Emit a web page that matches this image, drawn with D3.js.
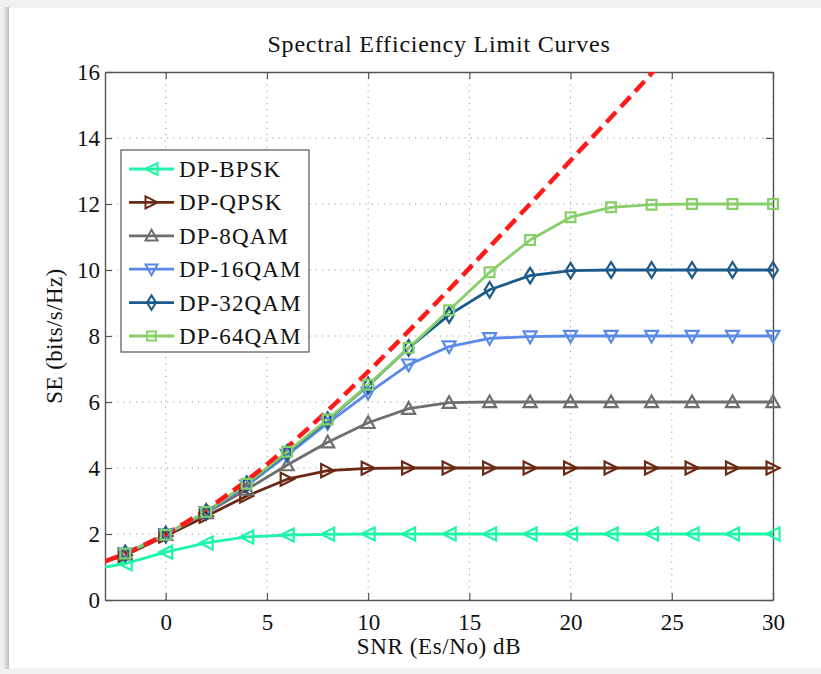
<!DOCTYPE html>
<html>
<head>
<meta charset="utf-8">
<script src="https://cdn.jsdelivr.net/npm/d3@7/dist/d3.min.js"></script>
<style>
  body { margin: 0; background: #f1f1f1; }
  svg { display: block; }
  text { font-family: "Liberation Serif", "Times New Roman", serif; fill: #111; }
</style>
</head>
<body>
<div id="chart"></div>
<script>
/* global d3 */
// SNR points (dB); first point (-3) has no marker, it's only where the curves start
var snr = [-3, -2, 0, 2, 4, 6, 8, 10, 12, 14, 16, 18, 20, 22, 24, 26, 28, 30];

var bpsk   = [1.00, 1.10, 1.45, 1.73, 1.91, 1.97, 1.99, 2.00, 2.00, 2.00, 2.00, 2.00, 2.00, 2.00, 2.00, 2.00, 2.00, 2.00];
var qpsk   = [1.17, 1.36, 1.94, 2.54, 3.15, 3.66, 3.92, 3.99, 4.00, 4.00, 4.00, 4.00, 4.00, 4.00, 4.00, 4.00, 4.00, 4.00];
var qam8   = [1.17, 1.39, 1.98, 2.64, 3.35, 4.09, 4.78, 5.37, 5.80, 5.98, 6.00, 6.00, 6.00, 6.00, 6.00, 6.00, 6.00, 6.00];
var qam16  = [1.17, 1.40, 1.98, 2.66, 3.46, 4.39, 5.36, 6.27, 7.13, 7.68, 7.93, 7.98, 8.00, 8.00, 8.00, 8.00, 8.00, 8.00];
var qam32  = [1.17, 1.41, 1.98, 2.67, 3.51, 4.46, 5.45, 6.50, 7.64, 8.64, 9.40, 9.83, 9.98, 10.0, 10.0, 10.0, 10.0, 10.0];
var qam64  = [1.17, 1.41, 1.98, 2.67, 3.52, 4.49, 5.47, 6.52, 7.64, 8.78, 9.93, 10.91, 11.60, 11.90, 11.98, 12.0, 12.0, 12.0];

// red dashed limit curve
var limitSnr = [-3, -2, -1, 0, 1, 2, 3, 4, 5, 6, 7, 8, 9, 10, 12, 14, 16, 18, 20, 22, 24, 24.2];
var limitSe  = [1.17, 1.41, 1.69, 2.00, 2.35, 2.74, 3.17, 3.62, 4.11, 4.63, 5.18, 5.74, 6.32, 6.92, 8.15, 9.41, 10.70, 12.00, 13.32, 14.63, 15.96, 16.10];

var seriesNames = ["DP-BPSK", "DP-QPSK", "DP-8QAM", "DP-16QAM", "DP-32QAM", "DP-64QAM"];
var seriesVals = [bpsk, qpsk, qam8, qam16, qam32, qam64];
var colors = ["#1ff5a6", "#6b2a14", "#6e6e6e", "#5b8ae6", "#1a5b8c", "#86cf69"];
var markers = ["left", "right", "up", "down", "diamond", "square"];

var xTicks = [0, 5, 10, 15, 20, 25, 30];
var yTicks = [0, 2, 4, 6, 8, 10, 12, 14, 16];

var W = 821, H = 674;
var L = 105, R = 773, T = 72, B = 600;

var svg = d3.select("#chart").append("svg")
    .attr("width", W)
    .attr("height", H);

// page / white sheet
var defs = svg.append("defs");
var grad = defs.append("linearGradient").attr("id", "shadow");
grad.append("stop").attr("offset", "0%").attr("stop-color", "#f1f1f1");
grad.append("stop").attr("offset", "100%").attr("stop-color", "#bdbdbd");
defs.append("clipPath").attr("id", "plotclip")
    .append("rect").attr("x", L).attr("y", T).attr("width", R - L).attr("height", B - T);

svg.append("rect").attr("width", W).attr("height", H).attr("fill", "#f1f1f1");
svg.append("rect").attr("x", 3).attr("y", 7).attr("width", 6).attr("height", 662).attr("fill", "url(#shadow)");
svg.append("rect").attr("x", 9).attr("y", 8).attr("width", W).attr("height", 660).attr("fill", "#fff");

var x = d3.scaleLinear().domain([-3, 30]).range([L, R]);
var y = d3.scaleLinear().domain([0, 16]).range([B, T]);

// grid
var grid = svg.append("g").attr("class", "grid");
grid.selectAll("line.gx")
    .data(xTicks)
    .enter()
    .append("line")
    .attr("x1", function (d) { return x(d); })
    .attr("x2", function (d) { return x(d); })
    .attr("y1", T).attr("y2", B)
    .attr("stroke", "#9a9a9a").attr("stroke-width", 1)
    .attr("stroke-dasharray", "1.2,5");
grid.selectAll("line.gy")
    .data(yTicks.filter(function (d) { return d > 0 && d < 16; }))
    .enter()
    .append("line")
    .attr("x1", L).attr("x2", R)
    .attr("y1", function (d) { return y(d); })
    .attr("y2", function (d) { return y(d); })
    .attr("stroke", "#9a9a9a").attr("stroke-width", 1)
    .attr("stroke-dasharray", "1.2,5");

// axes, MATLAB style: inward ticks on all four sides
var axisCol = "#555";
function styleAxis(g) {
    g.select(".domain").attr("stroke", axisCol).attr("stroke-width", 1.4);
    g.selectAll(".tick line").attr("stroke", axisCol).attr("stroke-width", 1.2);
    g.selectAll(".tick text")
        .attr("fill", "#111")
        .style("font-size", "23px")
        .style("font-family", "'Liberation Serif', serif");
}

svg.append("g")
    .attr("transform", "translate(0," + B + ")")
    .call(d3.axisBottom(x).tickValues(xTicks).tickSizeInner(-7).tickSizeOuter(0).tickPadding(14))
    .call(styleAxis);
svg.append("g")
    .attr("transform", "translate(0," + T + ")")
    .call(d3.axisTop(x).tickValues(xTicks).tickSizeInner(-7).tickSizeOuter(0).tickFormat(""))
    .call(styleAxis);
svg.append("g")
    .attr("transform", "translate(" + L + ",0)")
    .call(d3.axisLeft(y).tickValues(yTicks).tickSizeInner(-7).tickSizeOuter(0).tickPadding(5))
    .call(styleAxis);
svg.append("g")
    .attr("transform", "translate(" + R + ",0)")
    .call(d3.axisRight(y).tickValues(yTicks).tickSizeInner(-7).tickSizeOuter(0).tickFormat(""))
    .call(styleAxis);

// marker shapes
function markerPath(type, s) {
    var h = s / 2;
    if (type === "left") return "M" + (-h) + ",0L" + h + "," + (-h) + "L" + h + "," + h + "Z";
    if (type === "right") return "M" + h + ",0L" + (-h) + "," + (-h) + "L" + (-h) + "," + h + "Z";
    if (type === "up") return "M0," + (-h) + "L" + h + "," + (h * 0.8) + "L" + (-h) + "," + (h * 0.8) + "Z";
    if (type === "down") return "M0," + h + "L" + h + "," + (-h * 0.8) + "L" + (-h) + "," + (-h * 0.8) + "Z";
    if (type === "diamond") return "M0," + (-h * 1.2) + "L" + (h * 0.75) + ",0L0," + (h * 1.2) + "L" + (-h * 0.75) + ",0Z";
    var q = h * 0.75;
    return "M" + (-q) + "," + (-q) + "H" + q + "V" + q + "H" + (-q) + "Z";
}

var line = d3.line()
    .x(function (d) { return x(d[0]); })
    .y(function (d) { return y(d[1]); });

var plot = svg.append("g").attr("clip-path", "url(#plotclip)");
var plotMarks = svg.append("g");

seriesVals.forEach(function (vals, k) {
    var pts = snr.map(function (s, i) { return [s, vals[i]]; });
    plot.append("path")
        .datum(pts)
        .attr("d", line)
        .attr("fill", "none")
        .attr("stroke", colors[k])
        .attr("stroke-width", 2.8)
        .attr("stroke-linejoin", "round");
    plotMarks.selectAll("path.m" + k)
        .data(pts.slice(1))
        .enter()
        .append("path")
        .attr("class", "m" + k)
        .attr("transform", function (d) { return "translate(" + x(d[0]) + "," + y(d[1]) + ")"; })
        .attr("d", markerPath(markers[k], 13))
        .attr("fill", "none")
        .attr("stroke", colors[k])
        .attr("stroke-width", 2.2);
});

// limit curve
plot.append("path")
    .datum(limitSnr.map(function (s, i) { return [s, limitSe[i]]; }))
    .attr("d", line.curve(d3.curveMonotoneX))
    .attr("fill", "none")
    .attr("stroke", "#ff1a1a")
    .attr("stroke-width", 4.5)
    .attr("stroke-dasharray", "14,7");

// legend
var leg = svg.append("g");
leg.append("rect")
    .attr("x", 121).attr("y", 150)
    .attr("width", 188).attr("height", 202)
    .attr("fill", "#fff").attr("stroke", "#555").attr("stroke-width", 1.2);
var rows = leg.selectAll("g.row")
    .data(seriesNames)
    .enter()
    .append("g")
    .attr("class", "row")
    .attr("transform", function (d, i) { return "translate(0," + (169 + i * 33.4) + ")"; });
rows.append("line")
    .attr("x1", 129).attr("x2", 174)
    .attr("stroke", function (d, i) { return colors[i]; })
    .attr("stroke-width", 2.8);
rows.append("path")
    .attr("transform", "translate(151.5,0)")
    .attr("d", function (d, i) { return markerPath(markers[i], 12); })
    .attr("fill", "none")
    .attr("stroke", function (d, i) { return colors[i]; })
    .attr("stroke-width", 2);
rows.append("text")
    .attr("x", 179).attr("dy", "0.35em")
    .style("font-size", "23px")
    .style("letter-spacing", "1.1px")
    .text(function (d) { return d; });

// titles
svg.append("text")
    .attr("x", (L + R) / 2).attr("y", 52)
    .attr("text-anchor", "middle")
    .style("font-size", "24px")
    .style("letter-spacing", "0.8px")
    .text("Spectral Efficiency Limit Curves");
svg.append("text")
    .attr("x", (L + R) / 2).attr("y", 654)
    .attr("text-anchor", "middle")
    .style("font-size", "23px")
    .style("letter-spacing", "0.6px")
    .text("SNR (Es/No) dB");
svg.append("text")
    .attr("transform", "translate(62," + ((T + B) / 2) + ") rotate(-90)")
    .attr("text-anchor", "middle")
    .style("font-size", "23px")
    .style("letter-spacing", "0.4px")
    .text("SE (bits/s/Hz)");
</script>
</body>
</html>
